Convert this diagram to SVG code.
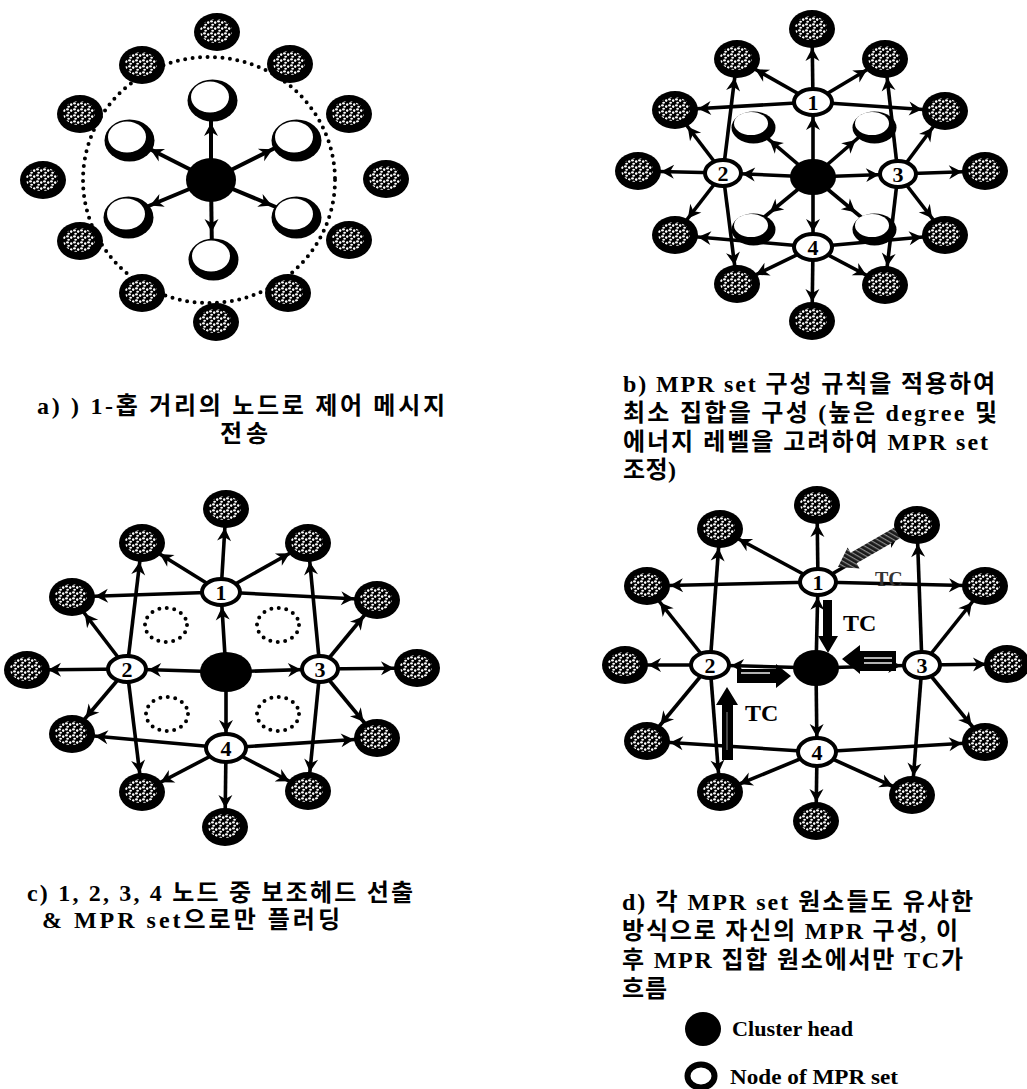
<svg xmlns="http://www.w3.org/2000/svg" xmlns:xlink="http://www.w3.org/1999/xlink" width="1027" height="1089" viewBox="0 0 1027 1089">
<style>
.e{stroke:#000;stroke-width:3.6;fill:none}
.ea{stroke:#000;stroke-width:4;fill:none}
.a15{marker-end:url(#a15)}.a17{marker-end:url(#a17)}.a19{marker-end:url(#a19)}
.a21{marker-end:url(#a21)}.a23{marker-end:url(#a23)}.a25{marker-end:url(#a25)}
.num{fill:#fff;stroke:#000;stroke-width:4}
.nt{font-family:"Liberation Serif",serif;font-weight:bold;font-size:22px;text-anchor:middle;fill:#000}
.cap{font-family:"Liberation Serif","Noto Sans CJK KR",serif;font-weight:bold;font-size:24px;fill:#000}
.tc{font-family:"Liberation Serif",serif;font-weight:bold;font-size:24px;fill:#000}
.leg{font-family:"Liberation Serif",serif;font-weight:bold;font-size:22px;fill:#000}
.dot{fill:none;stroke:#000;stroke-width:4;stroke-dasharray:0 7.5;stroke-linecap:round}
</style>
<defs>
<pattern id="spk" width="7" height="6" patternUnits="userSpaceOnUse">
<rect width="7" height="6" fill="#000"/>
<ellipse cx="1.5" cy="1.4" rx="1.5" ry="1.1" fill="#fff"/>
<ellipse cx="5.2" cy="2.6" rx="1.2" ry="1.4" fill="#fff"/>
<ellipse cx="2.6" cy="4.7" rx="1.4" ry="1" fill="#fff"/>
</pattern>
<pattern id="hatch" width="4" height="4" patternUnits="userSpaceOnUse" patternTransform="rotate(30)">
<rect width="4" height="4" fill="#1a1a1a"/>
<rect width="4" height="1.2" fill="#8a8a8a"/>
</pattern>
<marker id="a15" markerUnits="userSpaceOnUse" markerWidth="32" markerHeight="14" refX="28" refY="7" orient="auto" overflow="visible"><path d="M0,0 L13,7 L0,14 L4,7 Z" fill="#000"/></marker>
<marker id="a17" markerUnits="userSpaceOnUse" markerWidth="34" markerHeight="14" refX="30" refY="7" orient="auto" overflow="visible"><path d="M0,0 L13,7 L0,14 L4,7 Z" fill="#000"/></marker>
<marker id="a19" markerUnits="userSpaceOnUse" markerWidth="36" markerHeight="14" refX="32" refY="7" orient="auto" overflow="visible"><path d="M0,0 L13,7 L0,14 L4,7 Z" fill="#000"/></marker>
<marker id="a21" markerUnits="userSpaceOnUse" markerWidth="38" markerHeight="14" refX="34" refY="7" orient="auto" overflow="visible"><path d="M0,0 L13,7 L0,14 L4,7 Z" fill="#000"/></marker>
<marker id="a23" markerUnits="userSpaceOnUse" markerWidth="40" markerHeight="14" refX="36" refY="7" orient="auto" overflow="visible"><path d="M0,0 L13,7 L0,14 L4,7 Z" fill="#000"/></marker>
<marker id="a25" markerUnits="userSpaceOnUse" markerWidth="42" markerHeight="14" refX="38" refY="7" orient="auto" overflow="visible"><path d="M0,0 L13,7 L0,14 L4,7 Z" fill="#000"/></marker>
<g id="outer"><ellipse rx="23" ry="19" fill="#000"/><ellipse cx="-1" cy="-1" rx="16" ry="12" fill="url(#spk)"/></g>
<g id="whA"><ellipse cx="1.5" cy="2.5" rx="25" ry="21" fill="#000"/><ellipse cx="-1" cy="-1" rx="19" ry="15.5" fill="#fff"/></g>
<g id="whB"><ellipse cx="1.5" cy="2.5" rx="22" ry="16" fill="#000"/><ellipse cx="-1" cy="-1.5" rx="17" ry="11.5" fill="#fff"/></g>
</defs>
<rect width="1027" height="1089" fill="#fff"/>

<!-- Panel a -->
<ellipse cx="209" cy="180" rx="126" ry="123" class="dot"/>
<g id="connectors">
<g id="conn-a">
<line x1="211" y1="180" x2="211" y2="98" class="ea a25"/>
<line x1="211" y1="180" x2="212" y2="257" class="ea a25"/>
<line x1="211" y1="180" x2="128" y2="138" class="ea a25"/>
<line x1="211" y1="180" x2="295" y2="138" class="ea a25"/>
<line x1="211" y1="180" x2="127" y2="215" class="ea a25"/>
<line x1="211" y1="180" x2="295" y2="215" class="ea a25"/>
</g>
<g id="conn-b">
<line x1="813" y1="177" x2="813" y2="102" class="e a15"/>
<line x1="813" y1="177" x2="723" y2="173" class="e a19"/>
<line x1="813" y1="177" x2="898" y2="174" class="e a19"/>
<line x1="813" y1="177" x2="813" y2="247" class="e a15"/>
<line x1="813" y1="177" x2="752" y2="125" class="e a23"/>
<line x1="813" y1="177" x2="873" y2="125" class="e a23"/>
<line x1="813" y1="177" x2="752" y2="227" class="e a23"/>
<line x1="813" y1="177" x2="873" y2="227" class="e a23"/>
<line x1="813" y1="102" x2="812" y2="29" class="e a19"/>
<line x1="813" y1="102" x2="737" y2="59" class="e a21"/>
<line x1="813" y1="102" x2="885" y2="59" class="e a21"/>
<line x1="813" y1="102" x2="675" y2="110" class="e a23"/>
<line x1="813" y1="102" x2="945" y2="111" class="e a23"/>
<line x1="723" y1="173" x2="737" y2="59" class="e a19"/>
<line x1="723" y1="173" x2="675" y2="110" class="e a21"/>
<line x1="723" y1="173" x2="638" y2="171" class="e a23"/>
<line x1="723" y1="173" x2="675" y2="235" class="e a21"/>
<line x1="723" y1="173" x2="737" y2="284" class="e a19"/>
<line x1="898" y1="174" x2="885" y2="59" class="e a19"/>
<line x1="898" y1="174" x2="945" y2="111" class="e a21"/>
<line x1="898" y1="174" x2="985" y2="171" class="e a23"/>
<line x1="898" y1="174" x2="945" y2="235" class="e a21"/>
<line x1="898" y1="174" x2="885" y2="285" class="e a19"/>
<line x1="813" y1="247" x2="675" y2="235" class="e a23"/>
<line x1="813" y1="247" x2="737" y2="284" class="e a21"/>
<line x1="813" y1="247" x2="812" y2="321" class="e a19"/>
<line x1="813" y1="247" x2="885" y2="285" class="e a21"/>
<line x1="813" y1="247" x2="945" y2="235" class="e a23"/>
</g>
<g id="conn-c">
<line x1="226" y1="672" x2="221" y2="592" class="e a15"/>
<line x1="226" y1="672" x2="127" y2="669" class="e a21"/>
<line x1="226" y1="672" x2="320" y2="669" class="e a19"/>
<line x1="226" y1="672" x2="226" y2="748" class="e a15"/>
<line x1="221" y1="592" x2="226" y2="509" class="e a19"/>
<line x1="221" y1="592" x2="142" y2="543" class="e a21"/>
<line x1="221" y1="592" x2="308" y2="543" class="e a21"/>
<line x1="221" y1="592" x2="72" y2="597" class="e a23"/>
<line x1="221" y1="592" x2="377" y2="600" class="e a23"/>
<line x1="127" y1="669" x2="142" y2="543" class="e a19"/>
<line x1="127" y1="669" x2="72" y2="597" class="e a21"/>
<line x1="127" y1="669" x2="27" y2="670" class="e a21"/>
<line x1="127" y1="669" x2="72" y2="734" class="e a21"/>
<line x1="127" y1="669" x2="142" y2="792" class="e a19"/>
<line x1="320" y1="669" x2="308" y2="543" class="e a19"/>
<line x1="320" y1="669" x2="377" y2="600" class="e a21"/>
<line x1="320" y1="669" x2="417" y2="668" class="e a23"/>
<line x1="320" y1="669" x2="377" y2="738" class="e a21"/>
<line x1="320" y1="669" x2="308" y2="791" class="e a19"/>
<line x1="226" y1="748" x2="72" y2="734" class="e a23"/>
<line x1="226" y1="748" x2="142" y2="792" class="e a21"/>
<line x1="226" y1="748" x2="225" y2="827" class="e a19"/>
<line x1="226" y1="748" x2="308" y2="791" class="e a21"/>
<line x1="226" y1="748" x2="377" y2="738" class="e a23"/>
</g>
<g id="conn-d">
<line x1="816" y1="668" x2="818" y2="582" class="e a15"/>
<line x1="816" y1="668" x2="710" y2="665" class="e a21"/>
<line x1="816" y1="668" x2="922" y2="665" class="e a21"/>
<line x1="816" y1="668" x2="817" y2="752" class="e a15"/>
<line x1="818" y1="582" x2="817" y2="505" class="e a19"/>
<line x1="818" y1="582" x2="720" y2="529" class="e a21"/>
<line x1="818" y1="582" x2="917" y2="525" class="e a21"/>
<line x1="818" y1="582" x2="647" y2="586" class="e a23"/>
<line x1="818" y1="582" x2="985" y2="586" class="e a23"/>
<line x1="710" y1="665" x2="720" y2="529" class="e a19"/>
<line x1="710" y1="665" x2="647" y2="586" class="e a21"/>
<line x1="710" y1="665" x2="625" y2="665" class="e a23"/>
<line x1="710" y1="665" x2="647" y2="741" class="e a21"/>
<line x1="710" y1="665" x2="720" y2="792" class="e a19"/>
<line x1="922" y1="665" x2="917" y2="525" class="e a19"/>
<line x1="922" y1="665" x2="985" y2="586" class="e a21"/>
<line x1="922" y1="665" x2="1007" y2="664" class="e a21"/>
<line x1="922" y1="665" x2="985" y2="742" class="e a21"/>
<line x1="922" y1="665" x2="912" y2="795" class="e a19"/>
<line x1="817" y1="752" x2="647" y2="741" class="e a23"/>
<line x1="817" y1="752" x2="720" y2="792" class="e a21"/>
<line x1="817" y1="752" x2="816" y2="821" class="e a19"/>
<line x1="817" y1="752" x2="912" y2="795" class="e a21"/>
<line x1="817" y1="752" x2="985" y2="742" class="e a23"/>
</g>
</g>

<!-- Panel a nodes -->
<g id="a-head"><ellipse cx="211" cy="180" rx="25" ry="22" fill="#000"/></g>
<g id="a-w1"><use href="#whA" x="211" y="98"/></g>
<g id="a-w2"><use href="#whA" x="128" y="138"/></g>
<g id="a-w3"><use href="#whA" x="295" y="138"/></g>
<g id="a-w4"><use href="#whA" x="127" y="215"/></g>
<g id="a-w5"><use href="#whA" x="295" y="215"/></g>
<g id="a-w6"><use href="#whA" x="212" y="257"/></g>
<g id="a-o1"><use href="#outer" x="217" y="32"/></g>
<g id="a-o2"><use href="#outer" x="142" y="65"/></g>
<g id="a-o3"><use href="#outer" x="290" y="64"/></g>
<g id="a-o4"><use href="#outer" x="80" y="114"/></g>
<g id="a-o5"><use href="#outer" x="349" y="114"/></g>
<g id="a-o6"><use href="#outer" x="43" y="180"/></g>
<g id="a-o7"><use href="#outer" x="386" y="179"/></g>
<g id="a-o8"><use href="#outer" x="80" y="241"/></g>
<g id="a-o9"><use href="#outer" x="349" y="240"/></g>
<g id="a-o10"><use href="#outer" x="142" y="293"/></g>
<g id="a-o11"><use href="#outer" x="288" y="293"/></g>
<g id="a-o12"><use href="#outer" x="216" y="322"/></g>

<!-- Panel b nodes -->
<g id="b-head"><ellipse cx="813" cy="177" rx="23" ry="18" fill="#000"/></g>
<g id="b-w1"><use href="#whB" x="752" y="125"/></g>
<g id="b-w2"><use href="#whB" x="873" y="125"/></g>
<g id="b-w3"><use href="#whB" x="752" y="227"/></g>
<g id="b-w4"><use href="#whB" x="873" y="227"/></g>
<g id="b-n1"><ellipse cx="813" cy="102" rx="19" ry="13" class="num"/><text x="813" y="110" class="nt">1</text></g>
<g id="b-n2"><ellipse cx="723" cy="173" rx="18" ry="13" class="num"/><text x="723" y="181" class="nt">2</text></g>
<g id="b-n3"><ellipse cx="898" cy="174" rx="18" ry="13" class="num"/><text x="898" y="182" class="nt">3</text></g>
<g id="b-n4"><ellipse cx="813" cy="247" rx="19" ry="13" class="num"/><text x="813" y="255" class="nt">4</text></g>
<g id="b-o1"><use href="#outer" x="812" y="29"/></g>
<g id="b-o2"><use href="#outer" x="737" y="59"/></g>
<g id="b-o3"><use href="#outer" x="885" y="59"/></g>
<g id="b-o4"><use href="#outer" x="675" y="110"/></g>
<g id="b-o5"><use href="#outer" x="945" y="111"/></g>
<g id="b-o6"><use href="#outer" x="638" y="171"/></g>
<g id="b-o7"><use href="#outer" x="985" y="171"/></g>
<g id="b-o8"><use href="#outer" x="675" y="235"/></g>
<g id="b-o9"><use href="#outer" x="945" y="235"/></g>
<g id="b-o10"><use href="#outer" x="737" y="284"/></g>
<g id="b-o11"><use href="#outer" x="885" y="285"/></g>
<g id="b-o12"><use href="#outer" x="812" y="321"/></g>

<!-- Panel c nodes -->
<g id="c-head"><ellipse cx="226" cy="672" rx="26" ry="20" fill="#000"/></g>
<g id="c-d1"><ellipse cx="166" cy="625" rx="21" ry="17" class="dot"/></g>
<g id="c-d2"><ellipse cx="278" cy="625" rx="21" ry="17" class="dot"/></g>
<g id="c-d3"><ellipse cx="167" cy="714" rx="21" ry="17" class="dot"/></g>
<g id="c-d4"><ellipse cx="278" cy="714" rx="21" ry="17" class="dot"/></g>
<g id="c-n1"><ellipse cx="221" cy="592" rx="19" ry="13" class="num"/><text x="221" y="600" class="nt">1</text></g>
<g id="c-n2"><ellipse cx="127" cy="669" rx="19" ry="13" class="num"/><text x="127" y="677" class="nt">2</text></g>
<g id="c-n3"><ellipse cx="320" cy="669" rx="18" ry="13" class="num"/><text x="320" y="677" class="nt">3</text></g>
<g id="c-n4"><ellipse cx="226" cy="748" rx="20" ry="14" class="num"/><text x="226" y="756" class="nt">4</text></g>
<g id="c-o1"><use href="#outer" x="226" y="509"/></g>
<g id="c-o2"><use href="#outer" x="142" y="543"/></g>
<g id="c-o3"><use href="#outer" x="308" y="543"/></g>
<g id="c-o4"><use href="#outer" x="72" y="597"/></g>
<g id="c-o5"><use href="#outer" x="377" y="600"/></g>
<g id="c-o6"><use href="#outer" x="27" y="670"/></g>
<g id="c-o7"><use href="#outer" x="417" y="668"/></g>
<g id="c-o8"><use href="#outer" x="72" y="734"/></g>
<g id="c-o9"><use href="#outer" x="377" y="738"/></g>
<g id="c-o10"><use href="#outer" x="142" y="792"/></g>
<g id="c-o11"><use href="#outer" x="308" y="791"/></g>
<g id="c-o12"><use href="#outer" x="225" y="827"/></g>

<!-- Panel d nodes -->
<g id="d-head"><ellipse cx="816" cy="668" rx="23" ry="18" fill="#000"/></g>
<g id="d-n1"><ellipse cx="818" cy="582" rx="18" ry="13" class="num"/><text x="818" y="590" class="nt">1</text></g>
<g id="d-n2"><ellipse cx="710" cy="665" rx="19" ry="13" class="num"/><text x="710" y="673" class="nt">2</text></g>
<g id="d-n3"><ellipse cx="922" cy="665" rx="18" ry="13" class="num"/><text x="922" y="673" class="nt">3</text></g>
<g id="d-n4"><ellipse cx="817" cy="752" rx="19" ry="14" class="num"/><text x="817" y="760" class="nt">4</text></g>
<g id="d-o1"><use href="#outer" x="817" y="505"/></g>
<g id="d-o2"><use href="#outer" x="720" y="529"/></g>
<g id="d-o3"><use href="#outer" x="917" y="525"/></g>
<g id="d-o4"><use href="#outer" x="647" y="586"/></g>
<g id="d-o5"><use href="#outer" x="985" y="586"/></g>
<g id="d-o6"><use href="#outer" x="625" y="665"/></g>
<g id="d-o7"><use href="#outer" x="1007" y="664"/></g>
<g id="d-o8"><use href="#outer" x="647" y="741"/></g>
<g id="d-o9"><use href="#outer" x="985" y="742"/></g>
<g id="d-o10"><use href="#outer" x="720" y="792"/></g>
<g id="d-o11"><use href="#outer" x="912" y="795"/></g>
<g id="d-o12"><use href="#outer" x="816" y="821"/></g>

<!-- TC flows (panel d) -->
<g id="tc-flows">
<polygon points="823,600 832,600 832,636 838,636 828,653 818,636 823,636" fill="#000"/>
<polygon points="842,659 860,645 860,651 896,651 896,671 860,671 860,674" fill="#000"/>
<line x1="864" y1="658" x2="892" y2="658" stroke="#fff" stroke-width="1.4"/>
<line x1="864" y1="663" x2="892" y2="663" stroke="#fff" stroke-width="1.4"/>
<polygon points="737,669 776,669 776,664 791,676 776,688 776,683 737,683" fill="#000"/>
<line x1="741" y1="673" x2="770" y2="673" stroke="#fff" stroke-width="1.4"/>
<polygon points="727,687 738,705 733,705 733,760 722,760 722,705 716,705" fill="#000"/>
<line x1="727" y1="712" x2="727" y2="750" stroke="#777" stroke-width="1.2"/>
<polygon points="838,567 859.6,568.4 856.6,563.2 900,538.2 894,527.8 850.6,552.8 847.6,547.6" fill="url(#hatch)"/>
<text x="843" y="631" class="tc">TC</text>
<text x="745" y="721" class="tc">TC</text>
<text x="875" y="586" class="tc" style="font-size:20px;fill:#333">TC</text>
</g>

<!-- Captions -->
<g id="captions">
<text x="37" y="414" class="cap" textLength="408" lengthAdjust="spacing">a) ) 1-홉 거리의 노드로 제어 메시지</text>
<text x="220" y="442" class="cap" textLength="48" lengthAdjust="spacing">전송</text>
<text x="623" y="392" class="cap" textLength="372" lengthAdjust="spacing">b) MPR set 구성 규칙을 적용하여</text>
<text x="623" y="421" class="cap" textLength="374" lengthAdjust="spacing">최소 집합을 구성 (높은 degree 및</text>
<text x="623" y="450" class="cap" textLength="365" lengthAdjust="spacing">에너지 레벨을 고려하여 MPR set</text>
<text x="623" y="478" class="cap" textLength="53" lengthAdjust="spacing">조정)</text>
<text x="27" y="901" class="cap" textLength="386" lengthAdjust="spacing">c) 1, 2, 3, 4 노드 중 보조헤드 선출</text>
<text x="42" y="928" class="cap" textLength="298" lengthAdjust="spacing">&amp; MPR set으로만 플러딩</text>
<text x="622" y="910" class="cap" textLength="351" lengthAdjust="spacing">d) 각 MPR set 원소들도 유사한</text>
<text x="622" y="939" class="cap" textLength="336" lengthAdjust="spacing">방식으로 자신의 MPR 구성, 이</text>
<text x="622" y="968" class="cap" textLength="341" lengthAdjust="spacing">후 MPR 집합 원소에서만 TC가</text>
<text x="622" y="997" class="cap" textLength="45" lengthAdjust="spacing">흐름</text>
</g>

<!-- Legend -->
<g id="legend">
<g id="legend-head"><ellipse cx="703" cy="1029" rx="18" ry="17" fill="#000"/><text x="732" y="1036" class="leg" textLength="121" lengthAdjust="spacingAndGlyphs">Cluster head</text></g>
<g id="legend-mpr"><ellipse cx="701" cy="1076" rx="13.5" ry="11.5" fill="#fff" stroke="#000" stroke-width="6"/><text x="730" y="1084" class="leg" textLength="168" lengthAdjust="spacingAndGlyphs">Node of MPR set</text></g>
</g>
</svg>
